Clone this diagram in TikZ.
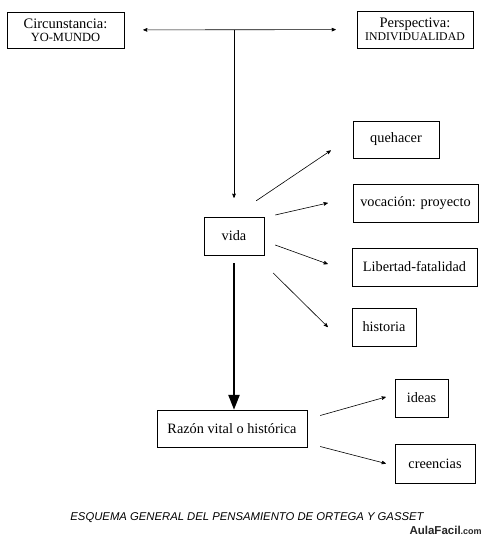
\documentclass[tikz,border=0pt]{standalone}
\usepackage{fontspec}
\setmainfont{Liberation Serif}
\newfontfamily\capsans{Liberation Sans}
\usepackage{tikz}
\usetikzlibrary{arrows,arrows.meta}

\begin{document}
\begin{tikzpicture}[->,>=stealth',semithick,x=1pt,y=-1pt,
                    every node/.style={font=\fontsize{14.3}{14}\selectfont}]
  \tikzstyle{box}=[draw=black,thin,inner sep=0pt,align=center]

  \fill[white] (0,0) rectangle (484,535);
  \useasboundingbox (0,0) rectangle (484,535);

  \node[box,minimum width=117pt,minimum height=36pt] (circ)  at (65.5,30)
       {{\fontsize{14.5}{14}\selectfont Circunstancia:}\\[-1pt]{\fontsize{12.5}{12}\selectfont YO-MUNDO}};
  \node[box,minimum width=116pt,minimum height=37pt] (persp) at (415,29.5)
       {{\fontsize{14.5}{14}\selectfont Perspectiva:}\\[-1pt]{\fontsize{11.8}{12}\selectfont INDIVIDUALIDAD}};

  \node[box,minimum width=60pt,minimum height=38pt]  (vida)  at (234,236) {vida};

  \node[box,minimum width=86pt,minimum height=37pt]  (queh)  at (396,139.5) {quehacer};
  \node[box,minimum width=125pt,minimum height=38pt] (voc)   at (415.5,203) {vocación: proyecto};
  \node[box,minimum width=125pt,minimum height=38pt] (lib)   at (414.5,267) {Libertad-fatalidad};
  \node[box,minimum width=64pt,minimum height=38pt]  (hist)  at (384,327) {historia};

  \node[box,minimum width=150pt,minimum height=37pt] (razon) at (232,428.5) {Razón vital o histórica};
  \node[box,minimum width=53pt,minimum height=38pt]  (ideas) at (421.5,398) {ideas};
  \node[box,minimum width=80pt,minimum height=39pt]  (cre)   at (435,463.5) {creencias};

  \coordinate (top) at (vida |- circ);

  \path (circ) edge [<->,shorten <=19pt,shorten >=21pt] (persp)
        (top)  edge [shorten >=19pt] (vida)
        ([shift={(-8,-16)}]vida.north east) edge ([shift={(-22,11)}]queh.west)
        ([shift={(11,-21)}]vida.east)       edge ([shift={(-25,0)}]voc.west)
        ([shift={(11,9)}]vida.east)         edge ([shift={(-24,-3)}]lib.west)
        ([shift={(9,37)}]vida.east)         edge ([shift={(-24,0)}]hist.west)
        ([shift={(13,-13)}]razon.east)      edge ([shift={(-9,-1)}]ideas.west)
        ([shift={(13,18)}]razon.east)       edge ([shift={(-9,0)}]cre.west);

  \draw[-{Triangle[length=15pt,width=11pt]},line width=2.4pt,shorten <=8pt]
        (vida.south) -- (vida.south |- razon.north);

  % pie del esquema
  \node[font=\capsans\itshape\fontsize{11.3}{12}\selectfont] (pie) at (247,518)
       {ESQUEMA GENERAL DEL PENSAMIENTO DE ORTEGA Y GASSET};
  \node[font=\capsans\bfseries\fontsize{11.5}{12}\selectfont,anchor=east,inner sep=0pt,black!85] (marca) at (482,530)
       {AulaFacil{\fontsize{9}{10}\selectfont.com}};
\end{tikzpicture}
\end{document}
